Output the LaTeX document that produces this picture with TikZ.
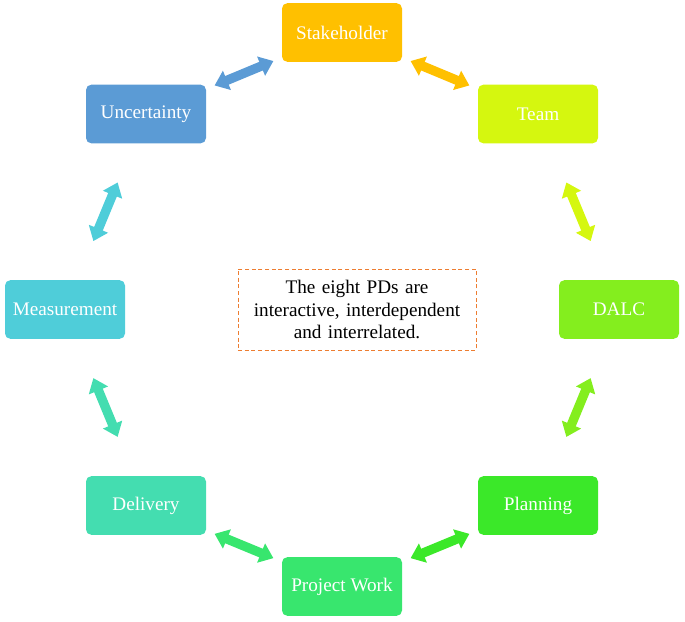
\documentclass[tikz,border=0pt]{standalone}
\usepackage{fontspec}
\setmainfont{Liberation Serif}
\usetikzlibrary{arrows.meta, calc}
\definecolor{cstake}{HTML}{FFC000}
\definecolor{cteam}{HTML}{D5F70F}
\definecolor{cdalc}{HTML}{84EE1E}
\definecolor{cplan}{HTML}{3BE829}
\definecolor{cwork}{HTML}{38E66E}
\definecolor{cdeliv}{HTML}{44DDB0}
\definecolor{cmeas}{HTML}{4FCDD9}
\definecolor{cuncert}{HTML}{5B9BD5}
\definecolor{cnote}{HTML}{ED7D31}

\begin{document}
\begin{tikzpicture}[x=0.75pt, y=-0.75pt,
  pd/.style = {rounded corners=4pt, minimum width=90pt, minimum height=44pt,
               text=white, font=\fontsize{14.4}{17}\selectfont, inner sep=2pt},
  link/.style = {line width=7pt, {Triangle[width=15pt,length=10pt]}-{Triangle[width=15pt,length=10pt]}}]
\useasboundingbox (0,0) rectangle (685,621);
\node[pd, fill=cstake] (stake) at (342,32.5) {Stakeholder};
\node[pd, fill=cteam] (team) at (538,114) {Team};
\node[pd, fill=cdalc] (dalc) at (619,309.5) {DALC};
\node[pd, fill=cplan] (plan) at (538,505.5) {Planning};
\node[pd, fill=cwork] (work) at (342,586.5) {Project Work};
\node[pd, fill=cdeliv] (deliv) at (146,505.5) {Delivery};
\node[pd, fill=cmeas] (meas) at (65,309.5) {Measurement};
\node[pd, fill=cuncert] (uncert) at (146,114) {Uncertainty};
\node[draw=cnote, dashed, dash pattern=on 3pt off 2pt, minimum width=177pt, minimum height=61pt,
      text width=172pt, align=center, font=\fontsize{14.4}{17}\selectfont] (note) at (357,309.5)
  {The eight PDs are\\ interactive, interdependent\\ and interrelated.};
\draw[link, cstake] ($(stake)!0.35!(team)$) -- ($(stake)!0.65!(team)$);
\draw[link, cteam] ($(team)!0.35!(dalc)$) -- ($(team)!0.65!(dalc)$);
\draw[link, cdalc] ($(dalc)!0.35!(plan)$) -- ($(dalc)!0.65!(plan)$);
\draw[link, cplan] ($(plan)!0.35!(work)$) -- ($(plan)!0.65!(work)$);
\draw[link, cwork] ($(work)!0.35!(deliv)$) -- ($(work)!0.65!(deliv)$);
\draw[link, cdeliv] ($(deliv)!0.35!(meas)$) -- ($(deliv)!0.65!(meas)$);
\draw[link, cmeas] ($(meas)!0.35!(uncert)$) -- ($(meas)!0.65!(uncert)$);
\draw[link, cuncert] ($(uncert)!0.35!(stake)$) -- ($(uncert)!0.65!(stake)$);
\end{tikzpicture}
\end{document}
